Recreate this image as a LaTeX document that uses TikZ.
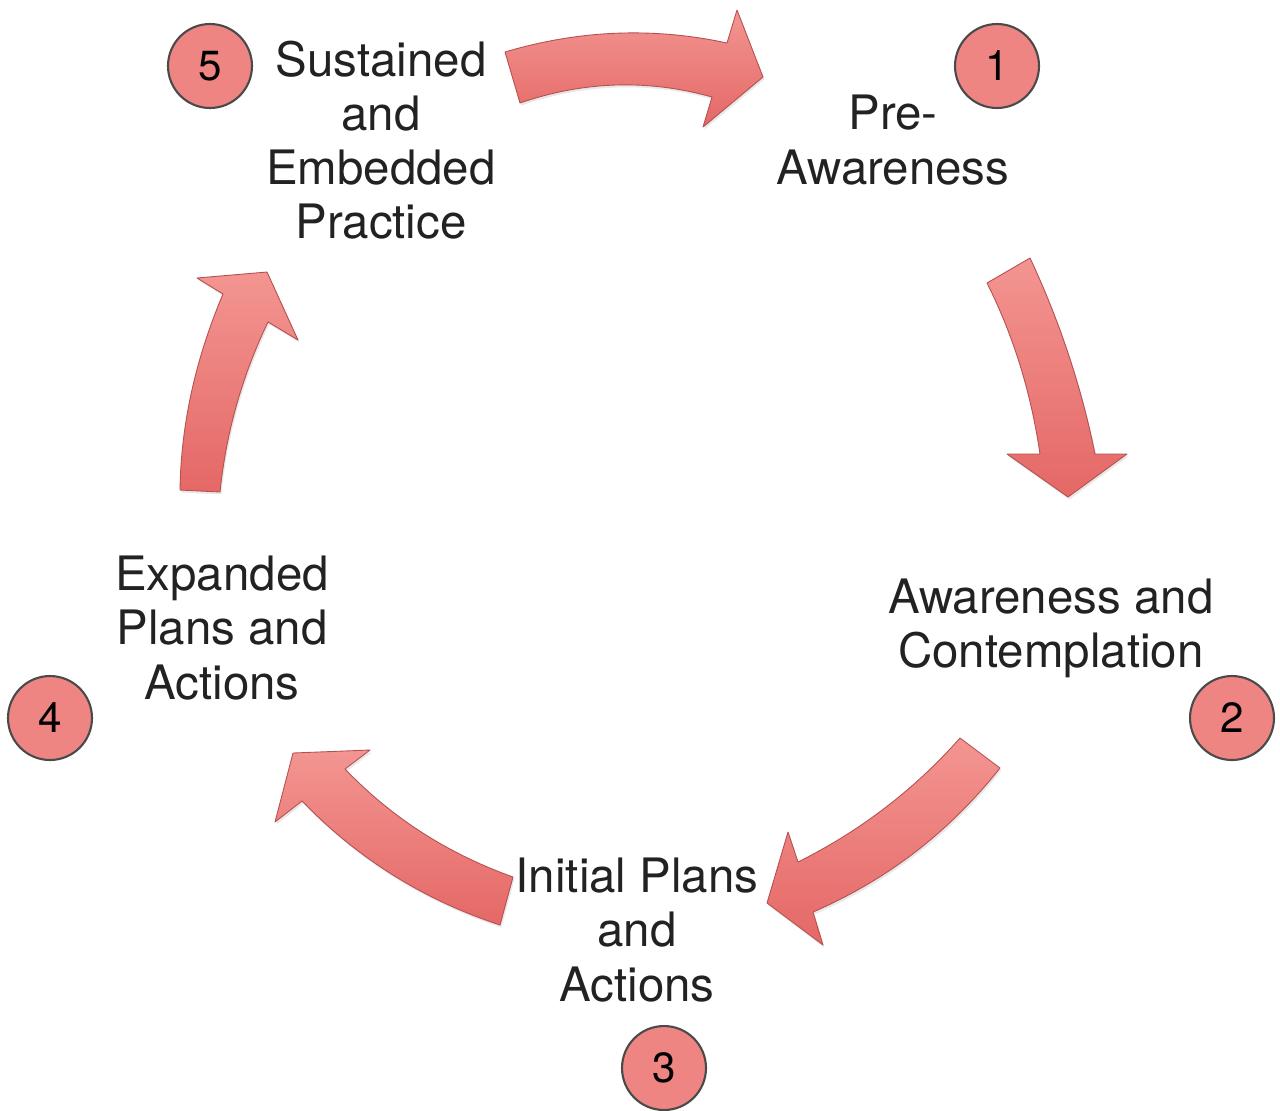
\documentclass[tikz,border=0pt]{standalone}
\usepackage{fontspec}
\setmainfont{TeX Gyre Heros}
\usetikzlibrary{shadows}
\definecolor{arrtop}{HTML}{F39591}
\definecolor{arrbot}{HTML}{E46866}
\definecolor{arredge}{HTML}{B55050}
\definecolor{numfill}{HTML}{EE8582}
\definecolor{numedge}{HTML}{4A4A4A}
\definecolor{txt}{HTML}{222222}
\tikzset{
  blockarrow/.style={top color=arrtop, bottom color=arrbot, draw=arredge, line width=0.5pt, line join=round,
    drop shadow={opacity=0.18, shadow xshift=0.8pt, shadow yshift=-1.4pt}},
  stage/.style={align=center, text=txt, font=\fontsize{27}{30.8}\selectfont, inner sep=0pt},
  num/.style={circle, fill=numfill, draw=numedge, line width=1.2pt, minimum size=1.68cm, inner sep=0pt,
    text=black, font=\fontsize{24}{24}\selectfont}
}
\begin{document}
\begin{tikzpicture}[x=0.02cm, y=-0.02cm]
\useasboundingbox[fill=white] (0,0) rectangle (1280,1110);
% arrow 5 -> 1 (top)
\path[blockarrow] (505,52) .. controls (579,30) and (653,27) .. (727,43) -- (737,10) -- (763,77) -- (703,127) -- (712,97)
  .. controls (648,79) and (584,81) .. (520,103) -- cycle;
% arrow 1 -> 2 (right)
\path[blockarrow] (1030,258) .. controls (1059,320) and (1081,385) .. (1095,454) -- (1127,454) -- (1068,497) -- (1007,454) -- (1040,454)
  .. controls (1031,393) and (1014,337) .. (987,283) -- cycle;
% arrow 2 -> 3 (bottom right)
\path[blockarrow] (1000,768) .. controls (950,831) and (889,879) .. (813,912) -- (823,945) -- (767,903) -- (788,832) -- (798,862)
  .. controls (860,831) and (914,790) .. (960,738) -- cycle;
% arrow 3 -> 4 (bottom left)
\path[blockarrow] (513,877) .. controls (449,854) and (393,819) .. (345,769) -- (370,750) -- (293,753) -- (275,822) -- (302,801)
  .. controls (358,859) and (424,900) .. (500,925) -- cycle;
% arrow 4 -> 5 (left)
\path[blockarrow] (180,490) .. controls (181,423) and (196,358) .. (223,294) -- (197,278) -- (267,272) -- (298,340) -- (268,322)
  .. controls (242,376) and (226,433) .. (220,492) -- cycle;

\node[stage] (s5) at (381,140) {Sustained\\and\\Embedded\\Practice};
\node[stage] (s1) at (893,140) {Pre-\\Awareness};
\node[stage] (s2) at (1051,628) {Awareness and\\Contemplation};
\node[stage] (s3) at (637,930) {Initial Plans\\and\\Actions};
\node[stage] (s4) at (222,628) {Expanded\\Plans and\\Actions};

\node[num] (n1) at (997,66) {1};
\node[num] (n2) at (1232,718) {2};
\node[num] (n3) at (664,1068) {3};
\node[num] (n4) at (50,718) {4};
\node[num] (n5) at (210,66) {5};
\end{tikzpicture}
\end{document}
